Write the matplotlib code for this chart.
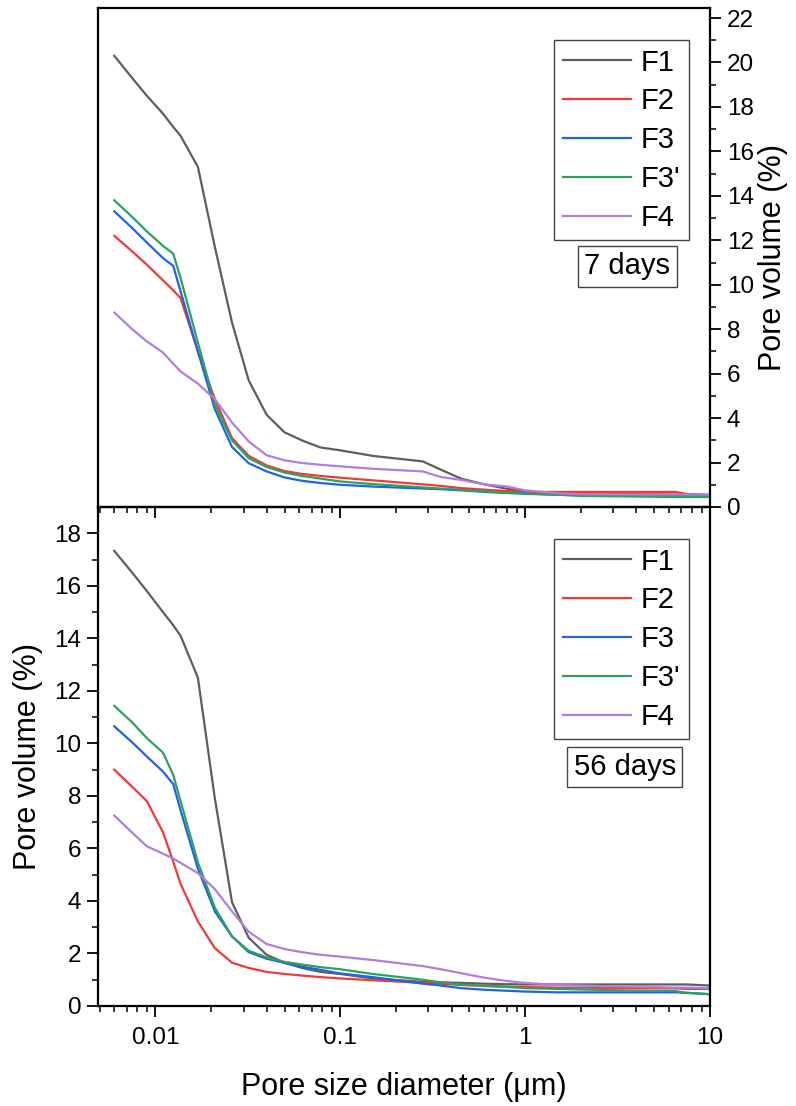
import matplotlib
matplotlib.use("Agg")
import matplotlib.pyplot as plt

plt.rcParams['font.family'] = ['Liberation Sans', 'DejaVu Sans']

# pore diameter (um)
diam = [0.006, 0.0075, 0.009, 0.011, 0.0125, 0.0137, 0.017, 0.021, 0.026, 0.032,
        0.04, 0.05, 0.062, 0.078, 0.1, 0.15, 0.28, 0.35, 0.45, 0.6,
        0.8, 1.0, 1.5, 2, 3, 5, 6.5, 7.5, 10]

labels = ["F1", "F2", "F3", "F3'", "F4"]
colors = ["#5e5e5e", "#f03a3a", "#1f64e0", "#2fa15f", "#b07de3"]

# 7 days
f1_7 = [20.3, 19.3, 18.5, 17.7, 17.1, 16.7, 15.3, 11.7, 8.3, 5.7,
        4.15, 3.36, 3.0, 2.68, 2.55, 2.3, 2.05, 1.68, 1.28, 1.02,
        0.82, 0.7, 0.62, 0.6, 0.58, 0.57, 0.56, 0.55, 0.52]
f2_7 = [12.2, 11.5, 10.9, 10.2, 9.75, 9.4, 7.0, 4.85, 3.1, 2.3,
        1.87, 1.62, 1.49, 1.4, 1.32, 1.2, 1.02, 0.95, 0.85, 0.78,
        0.72, 0.68, 0.68, 0.68, 0.68, 0.68, 0.68, 0.58, 0.55]
f3_7 = [13.3, 12.55, 11.9, 11.2, 10.85, 9.7, 7.0, 4.4, 2.7, 1.97,
        1.6, 1.33, 1.18, 1.08, 1.0, 0.92, 0.83, 0.8, 0.75, 0.68,
        0.63, 0.6, 0.55, 0.53, 0.52, 0.52, 0.52, 0.52, 0.52]
f3p_7 = [13.8, 13.05, 12.4, 11.75, 11.4, 10.3, 7.4, 4.6, 3.0, 2.2,
         1.8, 1.55, 1.4, 1.28, 1.15, 1.03, 0.88, 0.83, 0.77, 0.7,
         0.65, 0.6, 0.55, 0.5, 0.48, 0.46, 0.45, 0.45, 0.45]
f4_7 = [8.75, 8.0, 7.45, 6.95, 6.45, 6.1, 5.55, 4.85, 3.8, 2.95,
        2.33, 2.1, 1.98, 1.9, 1.83, 1.72, 1.6, 1.35, 1.22, 1.02,
        0.92, 0.75, 0.62, 0.58, 0.57, 0.56, 0.56, 0.56, 0.55]

# 56 days
f1_56 = [17.33, 16.5, 15.8, 15.0, 14.5, 14.1, 12.5, 7.9, 3.95, 2.6,
         1.95, 1.65, 1.45, 1.3, 1.22, 1.05, 0.92, 0.9, 0.88, 0.85,
         0.83, 0.82, 0.82, 0.82, 0.82, 0.82, 0.82, 0.82, 0.78]
f2_56 = [9.0, 8.35, 7.8, 6.62, 5.5, 4.65, 3.22, 2.2, 1.65, 1.45,
         1.3, 1.22, 1.16, 1.1, 1.05, 0.98, 0.88, 0.85, 0.8, 0.77,
         0.74, 0.72, 0.7, 0.7, 0.69, 0.68, 0.67, 0.65, 0.65]
f3_56 = [10.65, 10.04, 9.5, 8.93, 8.45, 7.45, 5.23, 3.6, 2.65, 2.05,
         1.8, 1.64, 1.5, 1.38, 1.24, 1.1, 0.85, 0.78, 0.68, 0.62,
         0.58, 0.55, 0.52, 0.52, 0.52, 0.52, 0.52, 0.5, 0.45]
f3p_56 = [11.43, 10.8, 10.2, 9.65, 8.8, 7.8, 5.47, 3.74, 2.65, 2.1,
          1.85, 1.68, 1.58, 1.48, 1.4, 1.22, 1.0, 0.9, 0.82, 0.76,
          0.72, 0.68, 0.65, 0.63, 0.6, 0.58, 0.57, 0.5, 0.45]
f4_56 = [7.25, 6.6, 6.08, 5.8, 5.62, 5.45, 5.06, 4.45, 3.6, 2.83,
         2.36, 2.17, 2.05, 1.95, 1.88, 1.75, 1.52, 1.4, 1.25, 1.08,
         0.95, 0.88, 0.8, 0.78, 0.75, 0.72, 0.7, 0.7, 0.68]

data7 = [f1_7, f2_7, f3_7, f3p_7, f4_7]
data56 = [f1_56, f2_56, f3_56, f3p_56, f4_56]

fig = plt.figure(figsize=(7.96, 11.06), dpi=100)
L, R = 98 / 796, 710 / 796
ytop, ymid, ybot = 1 - 8 / 1106, 1 - 507 / 1106, 1 - 1006 / 1106
ax2 = fig.add_axes([L, ybot, R - L, ymid - ybot])
ax1 = fig.add_axes([L, ymid, R - L, ytop - ymid], sharex=ax2)
ax1.set_zorder(3)
ax1.patch.set_alpha(0)

for ax, data in [(ax1, data7), (ax2, data56)]:
    for y, lab, c in zip(data, labels, colors):
        ax.plot(diam, y, color=c, lw=1.6, label=lab)
    ax.set_xscale('log')
    for sp in ax.spines.values():
        sp.set_linewidth(1.6)
    ax.tick_params(which='major', direction='out', length=8, width=1.3,
                   labelsize=17.5, pad=4)
    ax.tick_params(which='minor', direction='out', length=4.5, width=1.1)
    leg = ax.legend(loc='upper right', bbox_to_anchor=(0.965, 0.935), fontsize=21,
                    handlelength=2.35, handletextpad=0.33, labelspacing=0.37,
                    borderpad=0.28, borderaxespad=0, fancybox=False, framealpha=1,
                    edgecolor='#444444')
    leg.get_frame().set_linewidth(1.0)

ax2.set_xlim(0.0049, 10)
ax2.set_xticks([0.01, 0.1, 1, 10])
ax2.set_xticklabels(["0.01", "0.1", "1", "10"])
ax2.tick_params(axis='x', which='major', pad=7)

ax1.set_ylim(0, 22.45)
ax1.set_yticks(range(0, 23, 2))
ax1.set_yticks(range(1, 23, 2), minor=True)
ax1.yaxis.tick_right()
ax1.yaxis.set_label_position('right')
ax1.set_ylabel("Pore volume (%)", fontsize=22, labelpad=3)
ax1.tick_params(axis='x', which='both', labelbottom=False, top=False)

ax2.set_ylim(0, 19)
ax2.set_yticks(range(0, 19, 2))
ax2.set_yticks(range(1, 19, 2), minor=True)
ax2.tick_params(axis='x', which='both', top=False)
ax2.set_ylabel("Pore volume (%)", fontsize=22, labelpad=8)
ax2.set_xlabel("Pore size diameter (\u03bcm)", fontsize=22, labelpad=17)

box = dict(boxstyle='square,pad=0.22', fc='white', ec='#444444', lw=1.0)
ax1.text(0.865, 0.482, "7 days", transform=ax1.transAxes, fontsize=21,
         ha='center', va='center', bbox=box)
ax2.text(0.861, 0.479, "56 days", transform=ax2.transAxes, fontsize=21,
         ha='center', va='center', bbox=box)

fig.savefig("out.png", dpi=100)
